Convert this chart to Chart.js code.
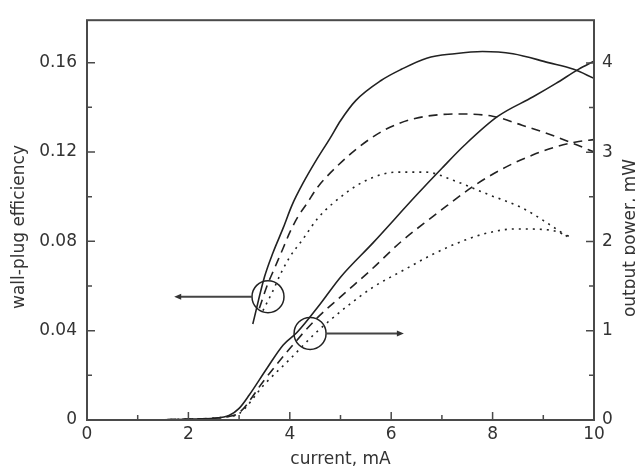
<!DOCTYPE html>
<html>
<head>
<meta charset="utf-8">
<script src="https://cdn.jsdelivr.net/npm/chart.js@4/dist/chart.umd.min.js"></script>
<style>
  html, body { margin: 0; padding: 0; background: #fff; }
</style>
</head>
<body>
<canvas id="chart" width="635" height="476"></canvas>
<script>
// Tick labels
const X_TICKS = [0, 2, 4, 6, 8, 10];
const EFF_TICKS = [0, 0.04, 0.08, 0.12, 0.16];
const POW_TICKS = [0, 1, 2, 3, 4];

// Wall-plug efficiency (left axis), current in mA
const EFF_SOLID_X = [3.27, 3.5, 3.67, 3.87, 4.04, 4.26, 4.54, 4.79, 5.0, 5.3, 5.8, 6.2, 6.7, 7.25, 7.8, 8.4, 9.1, 9.6, 10.0];
const EFF_SOLID_Y = [0.043, 0.064, 0.075, 0.086, 0.096, 0.106, 0.117, 0.126, 0.134, 0.143, 0.152, 0.157, 0.162, 0.164, 0.165, 0.164, 0.160, 0.157, 0.153];

const EFF_DASH_X = [3.4, 3.55, 3.7, 3.87, 4.0, 4.16, 4.34, 4.54, 4.73, 4.95, 5.35, 5.88, 6.47, 7.32, 8.0, 8.58, 9.23, 9.68, 10.0];
const EFF_DASH_Y = [0.050, 0.060, 0.068, 0.077, 0.084, 0.091, 0.097, 0.104, 0.109, 0.114, 0.122, 0.130, 0.135, 0.137, 0.136, 0.132, 0.127, 0.123, 0.120];

const EFF_DOT_X = [3.47, 3.65, 3.81, 4.0, 4.26, 4.54, 4.85, 5.48, 6.13, 6.67, 7.26, 7.91, 8.58, 9.09, 9.55];
const EFF_DOT_Y = [0.049, 0.057, 0.065, 0.073, 0.081, 0.090, 0.097, 0.107, 0.111, 0.111, 0.107, 0.101, 0.095, 0.088, 0.081];

// Output power (right axis), mW
const POW_SOLID_X = [0.4, 1.0, 2.0, 2.5, 2.8, 3.0, 3.2, 3.55, 3.87, 4.14, 4.6, 5.0, 5.65, 6.5, 7.0, 7.45, 8.1, 8.8, 9.25, 9.7, 10.0];
const POW_SOLID_Y = [0.0, 0.0, 0.01, 0.02, 0.05, 0.13, 0.28, 0.58, 0.84, 0.98, 1.30, 1.60, 1.99, 2.52, 2.82, 3.08, 3.40, 3.62, 3.77, 3.93, 4.02];

const POW_DASH_X = [0.4, 1.0, 2.0, 2.5, 2.8, 3.0, 3.5, 4.0, 4.5, 5.0, 5.6, 6.2, 6.8, 7.1, 7.65, 8.25, 8.8, 9.25, 9.7, 10.0];
const POW_DASH_Y = [0.0, 0.0, 0.01, 0.02, 0.04, 0.08, 0.45, 0.80, 1.12, 1.38, 1.68, 2.0, 2.27, 2.40, 2.63, 2.83, 2.97, 3.06, 3.12, 3.14];

const POW_DOT_X = [0.4, 1.0, 2.0, 2.5, 2.8, 3.0, 3.5, 4.0, 4.5, 5.1, 5.65, 6.25, 6.8, 7.3, 7.8, 8.45, 9.1, 9.55];
const POW_DOT_Y = [0.0, 0.0, 0.01, 0.02, 0.04, 0.07, 0.40, 0.68, 0.97, 1.26, 1.49, 1.68, 1.85, 1.98, 2.08, 2.14, 2.13, 2.05];

const FONT = '"DejaVu Sans", sans-serif';
const INK = '#222';
const TEXT = '#333';

function pts(xs, ys) {
  return xs.map((x, i) => ({ x, y: ys[i] }));
}

function series(xs, ys, axis, dash) {
  return {
    data: pts(xs, ys),
    yAxisID: axis,
    showLine: true,
    borderColor: INK,
    borderWidth: 1.6,
    borderDash: dash,
    pointRadius: 0,
    cubicInterpolationMode: 'monotone',
  };
}

// Inward ticks, frame, arrows and vertical axis titles
const decorations = {
  id: 'decorations',
  afterDraw(chart) {
    const { ctx, chartArea: a, scales } = chart;
    const x = scales.x, yl = scales.y, yr = scales.y2;
    ctx.save();
    ctx.strokeStyle = '#4a4a4a';
    ctx.lineWidth = 1.5;

    const drawTicks = (vals, toPx, draw) => {
      vals.forEach((v, i) => {
        draw(toPx(v), 8);
        if (i < vals.length - 1) draw(toPx((v + vals[i + 1]) / 2), 5);
      });
    };
    ctx.beginPath();
    drawTicks(X_TICKS, v => x.getPixelForValue(v), (p, len) => {
      ctx.moveTo(p, a.bottom); ctx.lineTo(p, a.bottom - len);
    });
    drawTicks(EFF_TICKS, v => yl.getPixelForValue(v), (p, len) => {
      ctx.moveTo(a.left, p); ctx.lineTo(a.left + len, p);
    });
    drawTicks(POW_TICKS, v => yr.getPixelForValue(v), (p, len) => {
      ctx.moveTo(a.right, p); ctx.lineTo(a.right - len, p);
    });
    ctx.stroke();

    // frame
    ctx.lineWidth = 2;
    ctx.strokeRect(a.left, a.top, a.right - a.left, a.bottom - a.top);

    // circles with arrows
    const arrow = (cx, cy, tipX) => {
      const r = 16;
      ctx.strokeStyle = INK;
      ctx.lineWidth = 1.5;
      ctx.beginPath();
      ctx.arc(cx, cy, r, 0, Math.PI * 2);
      ctx.stroke();
      const dir = Math.sign(tipX - cx);
      ctx.strokeStyle = '#444';
      ctx.lineWidth = 2;
      ctx.beginPath();
      ctx.moveTo(cx + dir * r, cy);
      ctx.lineTo(tipX - dir * 5, cy);
      ctx.stroke();
      ctx.fillStyle = '#333';
      ctx.beginPath();
      ctx.moveTo(tipX, cy);
      ctx.lineTo(tipX - dir * 7, cy - 3);
      ctx.lineTo(tipX - dir * 7, cy + 3);
      ctx.closePath();
      ctx.fill();
    };
    arrow(x.getPixelForValue(3.57), yl.getPixelForValue(0.0552), x.getPixelForValue(1.72));
    arrow(x.getPixelForValue(4.4), yr.getPixelForValue(0.97), x.getPixelForValue(6.25));

    // vertical titles
    ctx.fillStyle = TEXT;
    ctx.font = '17px ' + FONT;
    ctx.textAlign = 'center';
    ctx.textBaseline = 'middle';
    ctx.save();
    ctx.translate(20, 227);
    ctx.rotate(-Math.PI / 2);
    ctx.fillText('wall-plug efficiency', 0, 0);
    ctx.restore();
    ctx.save();
    ctx.translate(631, 238);
    ctx.rotate(-Math.PI / 2);
    ctx.fillText('output power, mW', 0, 0);
    ctx.restore();
    ctx.restore();
  }
};

const tickFont = { family: FONT, size: 17 };

new Chart(document.getElementById('chart'), {
  type: 'scatter',
  data: {
    datasets: [
      series(EFF_SOLID_X, EFF_SOLID_Y, 'y', []),
      series(EFF_DASH_X, EFF_DASH_Y, 'y', [9, 6]),
      series(EFF_DOT_X, EFF_DOT_Y, 'y', [2, 5]),
      series(POW_SOLID_X, POW_SOLID_Y, 'y2', []),
      series(POW_DASH_X, POW_DASH_Y, 'y2', [9, 6]),
      series(POW_DOT_X, POW_DOT_Y, 'y2', [2, 5]),
    ],
  },
  options: {
    responsive: false,
    animation: false,
    devicePixelRatio: 1,
    layout: { padding: { top: 8 } },
    plugins: { legend: { display: false }, tooltip: { enabled: false } },
    scales: {
      x: {
        type: 'linear',
        min: 0,
        max: 10,
        afterBuildTicks: s => { s.ticks = X_TICKS.map(v => ({ value: v })); },
        afterFit: s => { s.height = 56; },
        grid: { display: false, drawTicks: false },
        border: { display: false },
        ticks: { font: tickFont, color: TEXT, padding: 4, maxRotation: 0, callback: v => String(v) },
        title: { display: true, text: 'current, mA', font: tickFont, color: TEXT, padding: { top: 0, bottom: 6 } },
      },
      y: {
        position: 'left',
        min: 0,
        max: 0.179,
        afterBuildTicks: s => { s.ticks = EFF_TICKS.map(v => ({ value: v })); },
        afterFit: s => { s.width = 87; },
        grid: { display: false, drawTicks: false },
        border: { display: false },
        ticks: { font: tickFont, color: TEXT, padding: 10, callback: v => (v === 0 ? '0' : v.toFixed(2)) },
      },
      y2: {
        position: 'right',
        min: 0,
        max: 4.478,
        afterBuildTicks: s => { s.ticks = POW_TICKS.map(v => ({ value: v })); },
        afterFit: s => { s.width = 41; },
        grid: { display: false, drawTicks: false },
        border: { display: false },
        ticks: { font: tickFont, color: TEXT, padding: 8, callback: v => String(v) },
      },
    },
  },
  plugins: [decorations],
});
</script>
</body>
</html>
